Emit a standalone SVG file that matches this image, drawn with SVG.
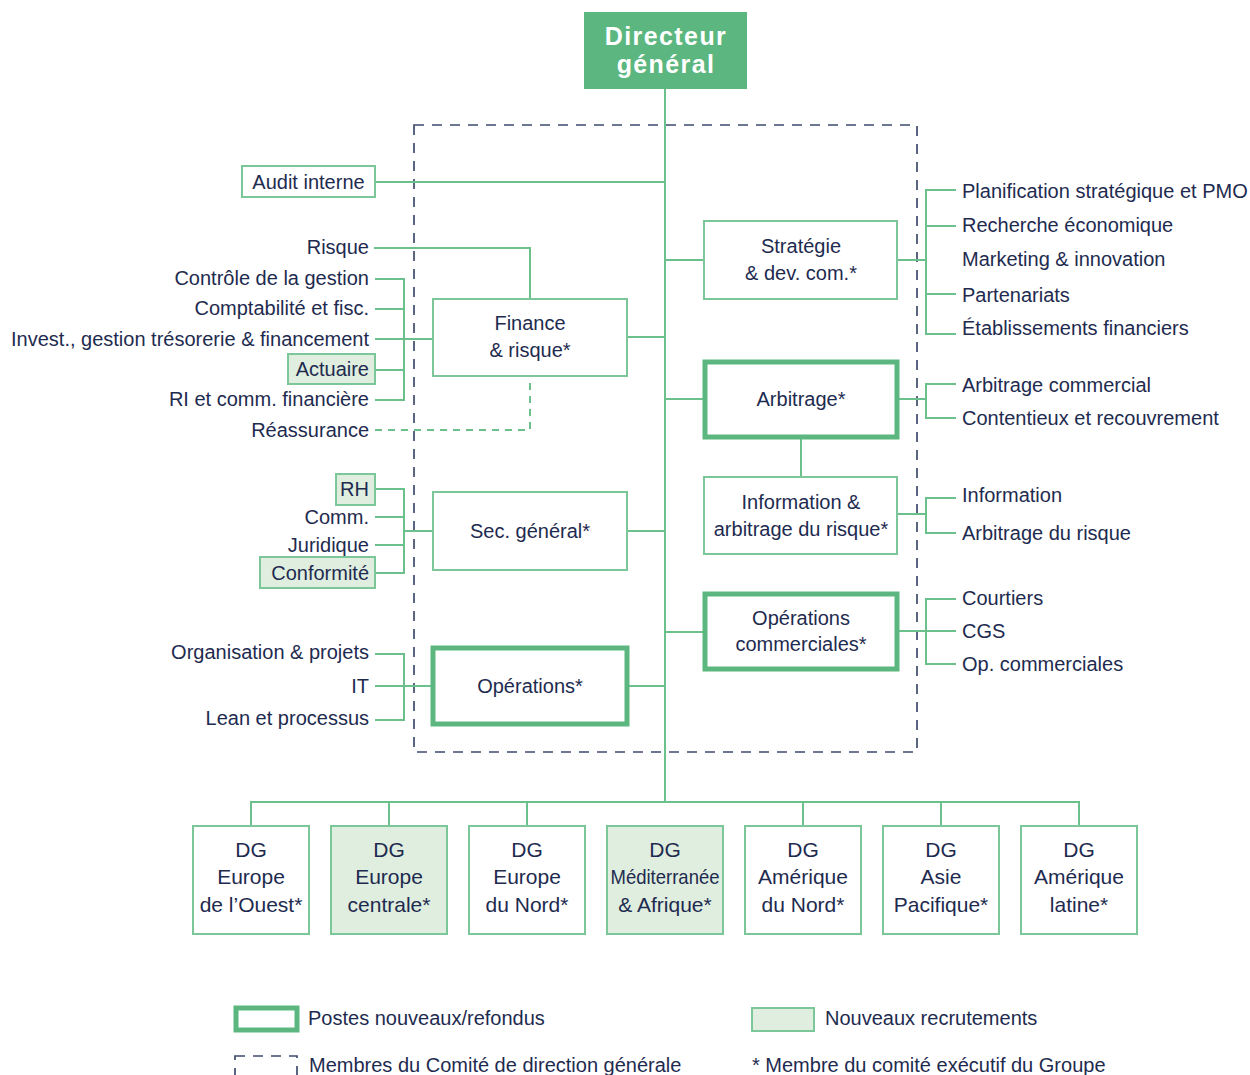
<svg xmlns="http://www.w3.org/2000/svg" width="1250" height="1075" viewBox="0 0 1250 1075">
<style>
text{font-family:"Liberation Sans",Arial,sans-serif;font-size:20px;fill:#1E2B4F}
.e{text-anchor:end}
.m{text-anchor:middle}
.dg{font-size:21px;text-anchor:middle}
.hd{font-family:"Liberation Sans",Arial,sans-serif;font-weight:bold;font-size:25px;fill:#fff;text-anchor:middle;letter-spacing:1.4px}
.thin{fill:#fff;stroke:#7CC79A;stroke-width:2}
.thick{fill:#fff;stroke:#5BB77F;stroke-width:5}
.fill{fill:#DFEEDF;stroke:#7CC79A;stroke-width:2}
.ln{fill:none;stroke:#6CC08C;stroke-width:2}
.dl{fill:none;stroke:#6CC08C;stroke-width:2;stroke-dasharray:7 6}
.cd{fill:none;stroke:#3F4B6D;stroke-width:1.7;stroke-dasharray:10 8}
</style>
<g id="comite">
<rect class="cd" x="414" y="125" width="503" height="627"/>
</g>
<g id="connectors">
<path class="ln" d="M665 89V802"/>
<path class="ln" d="M375 182H665"/>
<path class="ln" d="M374 248H530V299"/>
<path class="ln" d="M375 279H404V400H375M375 309H404M375 339H433M375 370H404"/>
<path class="ln" d="M627 337H665"/>
<path class="dl" d="M375 430H530V376"/>
<path class="ln" d="M375 489H404V573H375M375 517H404M375 545H404M404 531H433"/>
<path class="ln" d="M627 531H665"/>
<path class="ln" d="M375 654H404V720H375M375 686H433"/>
<path class="ln" d="M627 686H665"/>
<path class="ln" d="M665 260H704M665 399H704M665 632H704"/>
<path class="ln" d="M897 260H926M956 190H926V334H956M926 226H956M926 294H956"/>
<path class="ln" d="M897 399H926M956 384H926V418H956"/>
<path class="ln" d="M801 438V477"/>
<path class="ln" d="M897 514H926M956 498H926V533H956"/>
<path class="ln" d="M897 631H956M956 599H926V664H956"/>
<path class="ln" d="M251 826V802H1079V826M389 802V826M527 802V826M803 802V826M941 802V826"/>
</g>
<g id="directeur">
<rect x="584" y="12" width="163" height="77" fill="#5BB77F"/>
<text class="hd" x="666" y="45">Directeur</text>
<text class="hd" x="666" y="73">général</text>
</g>
<g id="audit">
<rect class="thin" x="242" y="166" width="133" height="31"/>
<text class="m" x="308.5" y="189">Audit interne</text>
</g>
<g id="finance">
<rect class="thin" x="433" y="299" width="194" height="77"/>
<text class="m" x="530" y="330">Finance</text>
<text class="m" x="530" y="357">&amp; risque*</text>
</g>
<g id="finance-items">
<text class="e" x="369" y="254">Risque</text>
<text class="e" x="369" y="285">Contrôle de la gestion</text>
<text class="e" x="369" y="315">Comptabilité et fisc.</text>
<text class="e" x="369" y="346">Invest., gestion trésorerie &amp; financement</text>
<rect class="fill" x="288" y="354" width="87" height="30"/>
<text class="e" x="369" y="376">Actuaire</text>
<text class="e" x="369" y="406">RI et comm. financière</text>
<text class="e" x="369" y="437">Réassurance</text>
</g>
<g id="secgen">
<rect class="thin" x="433" y="492" width="194" height="78"/>
<text class="m" x="530" y="538">Sec. général*</text>
</g>
<g id="secgen-items">
<rect class="fill" x="336" y="474" width="39" height="31"/>
<text class="e" x="369" y="496">RH</text>
<text class="e" x="369" y="524">Comm.</text>
<text class="e" x="369" y="552">Juridique</text>
<rect class="fill" x="260" y="557" width="115" height="31"/>
<text class="e" x="369" y="580">Conformité</text>
</g>
<g id="operations">
<rect class="thick" x="433" y="648" width="194" height="76"/>
<text class="m" x="530" y="693">Opérations*</text>
</g>
<g id="operations-items">
<text class="e" x="369" y="659">Organisation &amp; projets</text>
<text class="e" x="369" y="693">IT</text>
<text class="e" x="369" y="725">Lean et processus</text>
</g>
<g id="strategie">
<rect class="thin" x="704" y="221" width="193" height="78"/>
<text class="m" x="801" y="253">Stratégie</text>
<text class="m" x="801" y="280">&amp; dev. com.*</text>
</g>
<g id="strategie-items">
<text x="962" y="198">Planification stratégique et PMO</text>
<text x="962" y="232">Recherche économique</text>
<text x="962" y="266">Marketing &amp; innovation</text>
<text x="962" y="302">Partenariats</text>
<text x="962" y="335">Établissements financiers</text>
</g>
<g id="arbitrage">
<rect class="thick" x="705" y="362" width="192" height="75"/>
<text class="m" x="801" y="406">Arbitrage*</text>
</g>
<g id="arbitrage-items">
<text x="962" y="392">Arbitrage commercial</text>
<text x="962" y="425">Contentieux et recouvrement</text>
</g>
<g id="information">
<rect class="thin" x="704" y="477" width="193" height="77"/>
<text class="m" x="801" y="509">Information &amp;</text>
<text class="m" x="801" y="536">arbitrage du risque*</text>
</g>
<g id="information-items">
<text x="962" y="502">Information</text>
<text x="962" y="540">Arbitrage du risque</text>
</g>
<g id="opcom">
<rect class="thick" x="705" y="594" width="192" height="75"/>
<text class="m" x="801" y="625">Opérations</text>
<text class="m" x="801" y="651">commerciales*</text>
</g>
<g id="opcom-items">
<text x="962" y="605">Courtiers</text>
<text x="962" y="638">CGS</text>
<text x="962" y="671">Op. commerciales</text>
</g>
<g id="dg-ouest">
<rect class="thin" x="193" y="826" width="116" height="108"/>
<text class="dg" x="251" y="857">DG</text><text class="dg" x="251" y="884">Europe</text><text class="dg" x="251" y="912">de l’Ouest*</text>
</g>
<g id="dg-centrale">
<rect class="fill" x="331" y="826" width="116" height="108"/>
<text class="dg" x="389" y="857">DG</text><text class="dg" x="389" y="884">Europe</text><text class="dg" x="389" y="912">centrale*</text>
</g>
<g id="dg-nord">
<rect class="thin" x="469" y="826" width="116" height="108"/>
<text class="dg" x="527" y="857">DG</text><text class="dg" x="527" y="884">Europe</text><text class="dg" x="527" y="912">du Nord*</text>
</g>
<g id="dg-med">
<rect class="fill" x="607" y="826" width="116" height="108"/>
<text class="dg" x="665" y="857">DG</text><text class="dg" x="665" y="884" textLength="109" lengthAdjust="spacingAndGlyphs">Méditerranée</text><text class="dg" x="665" y="912">&amp; Afrique*</text>
</g>
<g id="dg-amnord">
<rect class="thin" x="745" y="826" width="116" height="108"/>
<text class="dg" x="803" y="857">DG</text><text class="dg" x="803" y="884">Amérique</text><text class="dg" x="803" y="912">du Nord*</text>
</g>
<g id="dg-asie">
<rect class="thin" x="883" y="826" width="116" height="108"/>
<text class="dg" x="941" y="857">DG</text><text class="dg" x="941" y="884">Asie</text><text class="dg" x="941" y="912">Pacifique*</text>
</g>
<g id="dg-latine">
<rect class="thin" x="1021" y="826" width="116" height="108"/>
<text class="dg" x="1079" y="857">DG</text><text class="dg" x="1079" y="884">Amérique</text><text class="dg" x="1079" y="912">latine*</text>
</g>
<g id="legend">
<rect class="thick" x="236" y="1008" width="61" height="22"/>
<text x="308" y="1025">Postes nouveaux/refondus</text>
<rect class="fill" x="752" y="1008" width="62" height="23"/>
<text x="825" y="1025">Nouveaux recrutements</text>
<rect class="cd" x="235" y="1056" width="62" height="30"/>
<text x="309" y="1072">Membres du Comité de direction générale</text>
<text x="752" y="1072">* Membre du comité exécutif du Groupe</text>
</g>
</svg>
